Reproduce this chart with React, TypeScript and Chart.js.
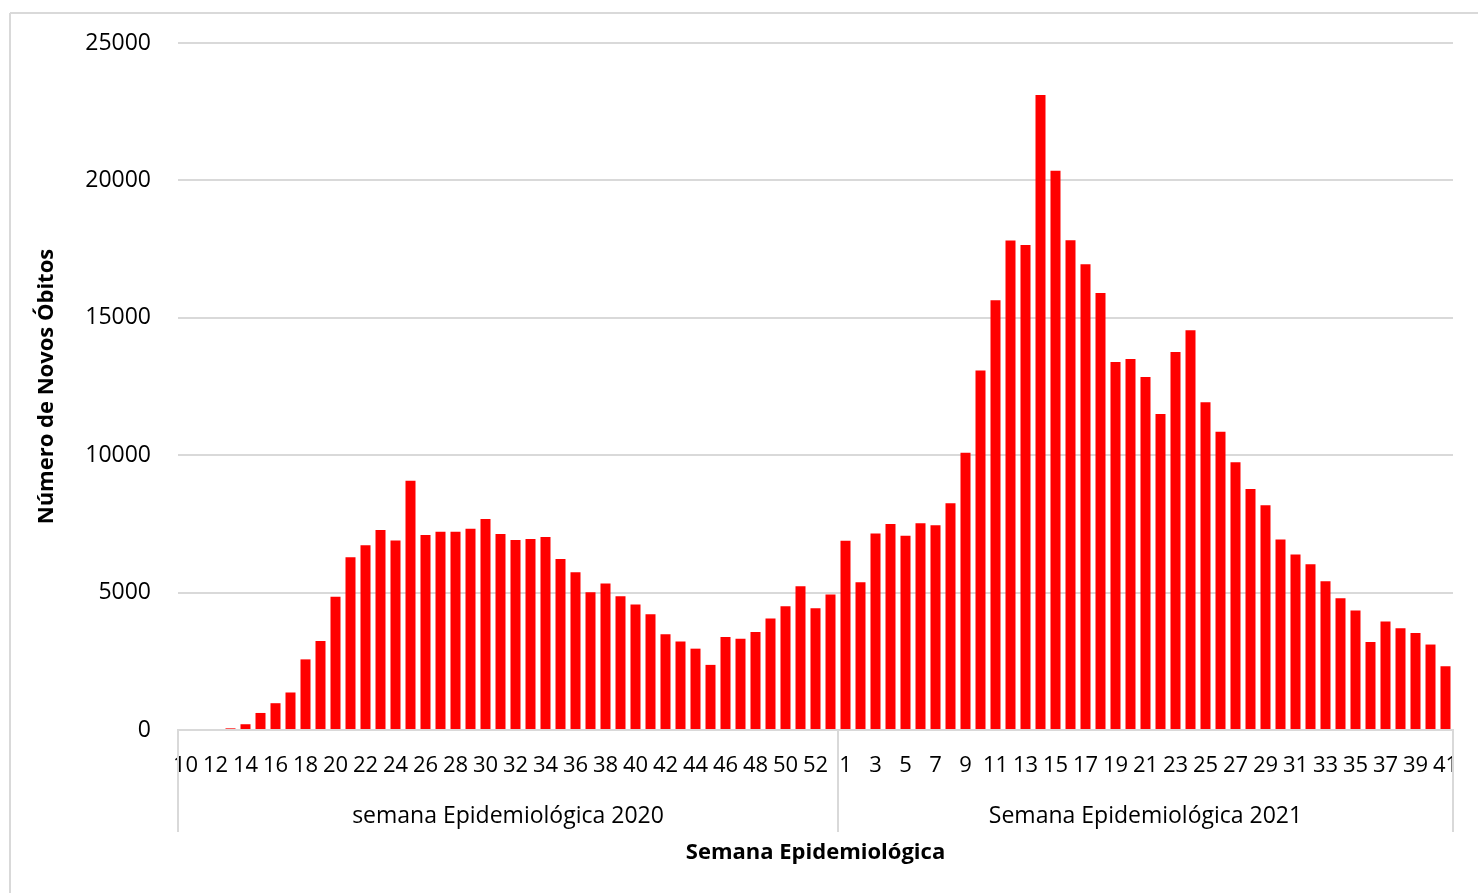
import React, { useEffect, useRef } from "react";
import { Chart, registerables } from "chart.js";

Chart.register(...registerables);

// Epidemiological weeks
const weeks2020 = [
  "10", "11", "12", "13", "14", "15", "16", "17", "18", "19", "20", "21", "22", "23", "24",
  "25", "26", "27", "28", "29", "30", "31", "32", "33", "34", "35", "36", "37", "38", "39",
  "40", "41", "42", "43", "44", "45", "46", "47", "48", "49", "50", "51", "52", "53",
];
const weeks2021 = [
  "1", "2", "3", "4", "5", "6", "7", "8", "9", "10", "11", "12", "13", "14", "15", "16", "17",
  "18", "19", "20", "21", "22", "23", "24", "25", "26", "27", "28", "29", "30", "31", "32",
  "33", "34", "35", "36", "37", "38", "39", "40", "41",
];

// New deaths per week
const deaths2020 = [
  0, 0, 0, 60, 210, 620, 975, 1365, 2570, 3240, 4850, 6290, 6720, 7280, 6900,
  9070, 7100, 7210, 7210, 7320, 7680, 7130, 6910, 6950, 7020, 6220, 5740, 5010, 5330, 4870,
  4570, 4210, 3480, 3220, 2960, 2370, 3380, 3320, 3570, 4060, 4500, 5230, 4430, 4930,
];
const deaths2021 = [
  6890, 5380, 7150, 7500, 7070, 7520, 7450, 8250, 10090, 13080, 15640, 17810, 17650, 23110,
  20350, 17820, 16950, 15900, 13390, 13500, 12850, 11500, 13760, 14550, 11930, 10850, 9740,
  8770, 8180, 6930, 6390, 6030, 5410, 4790, 4350, 3200, 3950, 3700, 3530, 3110, 2320,
];

const groupLabels = ["semana Epidemiológica 2020", "Semana Epidemiológica 2021"];
const yTicks = [0, 5000, 10000, 15000, 20000, 25000];
const yTitle = "Número de Novos Óbitos";
const xTitle = "Semana Epidemiológica";

const W = 1478;
const H = 893;
const FONT = '"Open Sans", "Noto Sans", sans-serif';
const GRID = "#d9d9d9";

export default function App() {
  const ref = useRef<HTMLCanvasElement | null>(null);

  useEffect(() => {
    document.body.style.margin = "0";
    const canvas = ref.current;
    if (!canvas) return;
    const labels = [...weeks2020, ...weeks2021];
    const values = [...deaths2020, ...deaths2021];
    const n2020 = weeks2020.length;

    const groupPlugin = {
      id: "groups",
      beforeDraw(chart: any) {
        const ctx = chart.ctx;
        ctx.save();
        ctx.fillStyle = "#ffffff";
        ctx.fillRect(0, 0, chart.width, chart.height);
        ctx.strokeStyle = GRID;
        ctx.lineWidth = 2;
        ctx.beginPath();
        ctx.moveTo(10, 13);
        ctx.lineTo(chart.width, 13);
        ctx.moveTo(10, 13);
        ctx.lineTo(10, chart.height);
        ctx.stroke();
        ctx.restore();
      },
      afterDraw(chart: any) {
        const ctx = chart.ctx;
        const x = chart.scales.x;
        const area = chart.chartArea;
        const sep = (x.getPixelForValue(n2020 - 1) + x.getPixelForValue(n2020)) / 2;
        const bottom = area.bottom + 102;
        ctx.save();
        ctx.strokeStyle = GRID;
        ctx.lineWidth = 2;
        ctx.beginPath();
        [area.left, sep, area.right].forEach((px: number) => {
          ctx.moveTo(px, area.bottom);
          ctx.lineTo(px, bottom);
        });
        ctx.stroke();
        ctx.fillStyle = "#000000";
        ctx.font = `23px ${FONT}`;
        ctx.textAlign = "center";
        ctx.textBaseline = "middle";
        ctx.fillText(groupLabels[0], (area.left + sep) / 2, area.bottom + 86);
        ctx.fillText(groupLabels[1], (sep + area.right) / 2, area.bottom + 86);
        ctx.restore();
      },
    };

    const chart = new Chart(canvas, {
      type: "bar",
      data: {
        labels,
        datasets: [
          {
            label: "Novos Óbitos",
            data: values,
            backgroundColor: "#ff0000",
            borderWidth: 0,
            barPercentage: 0.667,
            categoryPercentage: 1.0,
          },
        ],
      },
      options: {
        responsive: false,
        animation: false,
        layout: { padding: { top: 43, left: 0, right: 25, bottom: 0 } },
        plugins: {
          legend: { display: false },
          tooltip: { enabled: false },
        },
        scales: {
          x: {
            type: "category",
            offset: true,
            grid: { display: false, drawTicks: false },
            border: { display: true, color: GRID, width: 2 },
            ticks: {
              autoSkip: false,
              maxRotation: 0,
              minRotation: 0,
              padding: 23,
              color: "#000000",
              font: { family: FONT, size: 22 },
              callback: (_v: any, i: number) => (i % 2 === 0 ? labels[i] : ""),
            },
            title: {
              display: true,
              text: xTitle,
              color: "#000000",
              font: { family: FONT, size: 22, weight: "bold" },
              padding: { top: 0, bottom: 27 },
            },
            afterFit: (s: any) => {
              s.height = 163;
              s.paddingLeft = 0;
              s.paddingRight = 0;
            },
          },
          y: {
            min: 0,
            max: 25000,
            afterBuildTicks: (s: any) => {
              s.ticks = yTicks.map((v) => ({ value: v }));
            },
            grid: { color: GRID, lineWidth: 2, drawTicks: false },
            border: { display: false },
            ticks: {
              padding: 27,
              color: "#000000",
              font: { family: FONT, size: 23 },
              callback: (v: any) => String(v),
            },
            title: {
              display: true,
              text: yTitle,
              color: "#000000",
              font: { family: FONT, size: 22, weight: "bold" },
              padding: { top: 34, bottom: 0 },
            },
            afterFit: (s: any) => {
              s.width = 178;
            },
          },
        },
      },
      plugins: [groupPlugin],
    } as any);

    return () => chart.destroy();
  }, []);

  return (
    <div style={{ position: "fixed", left: 0, top: 0, width: W, height: H, background: "#fff" }}>
      <canvas ref={ref} width={W} height={H} style={{ display: "block", width: W, height: H }} />
    </div>
  );
}
